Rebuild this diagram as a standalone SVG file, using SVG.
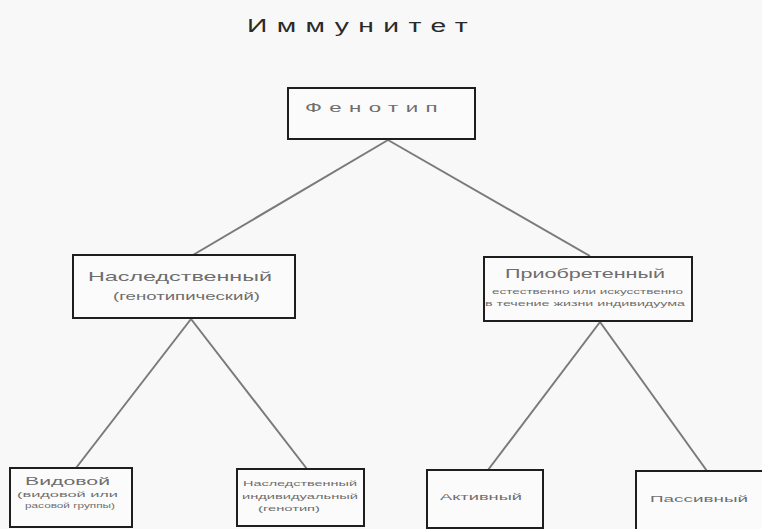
<svg xmlns="http://www.w3.org/2000/svg" width="762" height="529" viewBox="0 0 762 529">
<style>
.box{fill:#fbfbfb;stroke:#1e1e1e;stroke-width:2}
.t{font-family:"Liberation Sans",Arial,sans-serif;fill:#6e6e6e}
.edge{stroke:#7a7a7a;stroke-width:2;fill:none}
</style>
<rect width="762" height="529" fill="#f8f8f8"/>
<text class="t" x="247" y="32" font-size="18" letter-spacing="6" style="fill:#2a2a2a" textLength="230" lengthAdjust="spacingAndGlyphs">Иммунитет</text>
<g id="connectors">
<line class="edge" x1="388" y1="140" x2="193" y2="255"/>
<line class="edge" x1="388" y1="140" x2="590" y2="256"/>
<line class="edge" x1="191" y1="319" x2="76" y2="468"/>
<line class="edge" x1="191" y1="319" x2="307" y2="469"/>
<line class="edge" x1="600" y1="322" x2="488" y2="470"/>
<line class="edge" x1="600" y1="322" x2="707" y2="471"/>
</g>
<g id="phenotype">
<rect class="box" x="288" y="88" width="187" height="51"/>
<text class="t" x="305" y="112" font-size="12" letter-spacing="4" textLength="140" lengthAdjust="spacingAndGlyphs">Фенотип</text>
</g>
<g id="hereditary">
<rect class="box" x="73" y="255" width="222" height="63"/>
<text class="t" x="88" y="281" font-size="13" textLength="184" lengthAdjust="spacingAndGlyphs">Наследственный</text>
<text class="t" x="113" y="300" font-size="10" textLength="147" lengthAdjust="spacingAndGlyphs">(генотипический)</text>
</g>
<g id="acquired">
<rect class="box" x="484" y="257" width="208" height="64"/>
<text class="t" x="505" y="278" font-size="12" textLength="160" lengthAdjust="spacingAndGlyphs">Приобретенный</text>
<text class="t" x="492" y="294" font-size="8" textLength="191" lengthAdjust="spacingAndGlyphs">естественно или искусственно</text>
<text class="t" x="485" y="306" font-size="8" textLength="200" lengthAdjust="spacingAndGlyphs">в течение жизни индивидуума</text>
</g>
<g id="species">
<rect class="box" x="10" y="468" width="122" height="59"/>
<text class="t" x="25" y="485" font-size="11" textLength="85" lengthAdjust="spacingAndGlyphs">Видовой</text>
<text class="t" x="17" y="497" font-size="8" textLength="101" lengthAdjust="spacingAndGlyphs">(видовой или</text>
<text class="t" x="25" y="508" font-size="8" textLength="90" lengthAdjust="spacingAndGlyphs">расовой группы)</text>
</g>
<g id="individual">
<rect class="box" x="237" y="469" width="127" height="57"/>
<text class="t" x="243" y="486" font-size="8" textLength="114" lengthAdjust="spacingAndGlyphs">Наследственный</text>
<text class="t" x="242" y="499" font-size="8" textLength="116" lengthAdjust="spacingAndGlyphs">индивидуальный</text>
<text class="t" x="258" y="511" font-size="8" textLength="62" lengthAdjust="spacingAndGlyphs">(генотип)</text>
</g>
<g id="active">
<rect class="box" x="427" y="470" width="116" height="58"/>
<text class="t" x="440" y="500" font-size="9" textLength="82" lengthAdjust="spacingAndGlyphs">Активный</text>
</g>
<g id="passive">
<rect class="box" x="636" y="471" width="140" height="70"/>
<text class="t" x="650" y="502" font-size="9" textLength="98" lengthAdjust="spacingAndGlyphs">Пассивный</text>
</g>
</svg>
